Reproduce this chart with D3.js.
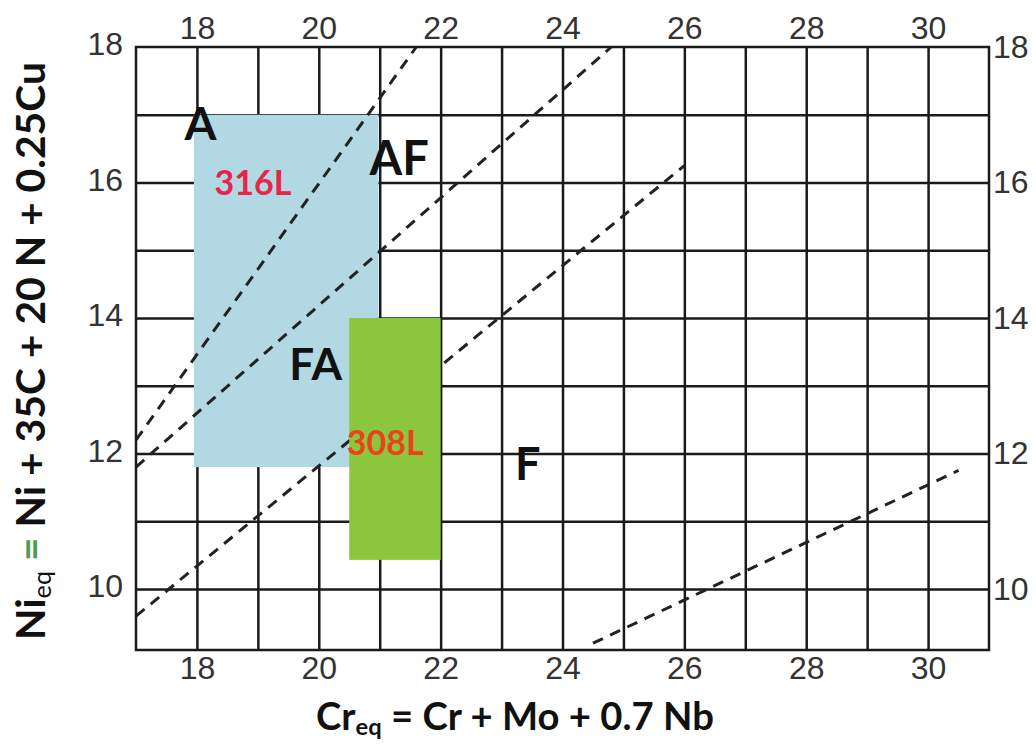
<!DOCTYPE html>
<html>
<head>
<meta charset="utf-8">
<script src="https://cdn.jsdelivr.net/npm/d3@7"></script>
<style>
  html, body { margin: 0; padding: 0; background: #fff; }
  svg { display: block; }
</style>
</head>
<body>
<svg id="chart" width="1036" height="747"></svg>
<script>
// Constitution diagram for stainless weld metals (Cr / Ni equivalents)

// axis extents and labelled ticks
const crDomain = [17, 31];
const niDomain = [9.1, 18];
const crTickLabels = [18, 20, 22, 24, 26, 28, 30];
const niTickLabels = [10, 12, 14, 16, 18];

// phase boundaries, each given by two [Cr_eq, Ni_eq] end points
const boundaryAtoAF  = [[17, 12.2], [21.6, 18]];
const boundaryAFtoFA = [[17, 11.8], [24.8, 18]];
const boundaryFAtoF  = [[17, 9.6],  [26, 16.25]];
const boundaryFtoFM  = [[24.5, 9.2], [30.5, 11.75]];

// alloy composition windows: [Cr min, Cr max, Ni min, Ni max]
const alloy316L = [17.95, 20.98, 11.8, 17];
const alloy308L = [20.5, 22, 10.43, 14];

// solidification-mode regions, anchored in Cr_eq / Ni_eq units
const phaseNames = ["A", "AF", "FA", "F"];
const phaseCr    = [18.06, 21.32, 19.95, 23.43];
const phaseNi    = [16.63, 16.11, 13.09, 11.61];

// alloy names, anchored the same way
const alloyNames = ["316L", "308L"];
const alloyCr    = [18.92, 21.09];
const alloyNi    = [15.82, 11.98];

const svg = d3.select("#chart");

const x = d3.scaleLinear().domain(crDomain).range([136, 989]);
const y = d3.scaleLinear().domain(niDomain).range([650, 47]);

const plotLeft = x(crDomain[0]), plotRight = x(crDomain[1]);
const plotTop = y(niDomain[1]), plotBottom = y(niDomain[0]);

const ink = "#1a1a1a";
const tickFont = "'Liberation Sans', Arial, sans-serif";
const labelFont = "Lato, 'Open Sans', sans-serif";

// ---- grid (one line per unit) ----
const gridCr = x.ticks(crDomain[1] - crDomain[0]).filter(v => v > crDomain[0] && v < crDomain[1]);
const gridNi = d3.range(Math.ceil(niDomain[0]), niDomain[1]);

svg.append("g")
  .attr("transform", `translate(0,${plotBottom})`)
  .call(d3.axisBottom(x).tickValues(gridCr).tickSize(-(plotBottom - plotTop)).tickFormat(""))
  .call(g => g.select(".domain").remove())
  .selectAll("line").attr("stroke", ink).attr("stroke-width", 2.5);

svg.append("g")
  .attr("transform", `translate(${plotLeft},0)`)
  .call(d3.axisLeft(y).tickValues(gridNi).tickSize(-(plotRight - plotLeft)).tickFormat(""))
  .call(g => g.select(".domain").remove())
  .selectAll("line").attr("stroke", ink).attr("stroke-width", 2.5);

// ---- 316L window (below the boundaries) ----
function windowRect(sel, w, fill) {
  sel.append("rect")
    .attr("x", x(w[0]))
    .attr("y", y(w[3]))
    .attr("width", x(w[1]) - x(w[0]))
    .attr("height", y(w[2]) - y(w[3]))
    .attr("fill", fill);
}
windowRect(svg, alloy316L, "#b2d8e3");

// ---- phase boundaries ----
const line = d3.line().x(d => x(d[0])).y(d => y(d[1]));
svg.append("g")
  .selectAll("path")
  .data([boundaryAtoAF, boundaryAFtoFA, boundaryFAtoF, boundaryFtoFM])
  .join("path")
  .attr("d", line)
  .attr("fill", "none")
  .attr("stroke", "#222")
  .attr("stroke-width", 3)
  .attr("stroke-dasharray", "11 8");

// ---- 308L window (drawn over the boundaries) ----
windowRect(svg, alloy308L, "#8cc63f");

// ---- frame ----
svg.append("rect")
  .attr("x", plotLeft).attr("y", plotTop)
  .attr("width", plotRight - plotLeft).attr("height", plotBottom - plotTop)
  .attr("fill", "none").attr("stroke", ink).attr("stroke-width", 2.5);

// ---- tick labels on all four sides ----
function styleTicks(g) {
  g.select(".domain").remove();
  g.selectAll("line").remove();
  g.selectAll("text")
    .attr("font-family", tickFont)
    .attr("font-size", 32)
    .attr("fill", "#333");
}

svg.append("g")
  .attr("transform", `translate(0,${plotBottom})`)
  .call(d3.axisBottom(x).tickValues(crTickLabels).tickSize(0).tickPadding(6))
  .call(styleTicks);

svg.append("g")
  .attr("transform", `translate(0,${plotTop})`)
  .call(d3.axisTop(x).tickValues(crTickLabels).tickSize(0).tickPadding(8))
  .call(styleTicks);

svg.append("g")
  .attr("transform", `translate(${plotLeft},0)`)
  .call(d3.axisLeft(y).tickValues(niTickLabels).tickSize(0).tickPadding(13))
  .call(styleTicks)
  .selectAll("text").attr("dy", "0.24em");

svg.append("g")
  .attr("transform", `translate(${plotRight},0)`)
  .call(d3.axisRight(y).tickValues(niTickLabels).tickSize(0).tickPadding(4))
  .call(styleTicks);

// ---- region and alloy names ----
const phaseSizes = [46, 47, 44, 45];
svg.append("g")
  .selectAll("text")
  .data(phaseNames)
  .join("text")
  .attr("x", (d, i) => x(phaseCr[i]))
  .attr("y", (d, i) => y(phaseNi[i]))
  .attr("text-anchor", "middle")
  .attr("font-family", labelFont)
  .attr("font-weight", 700)
  .attr("font-size", (d, i) => phaseSizes[i])
  .attr("fill", "#111")
  .text(d => d);

const alloyColors = ["#e5264b", "#ea421c"];
svg.append("g")
  .selectAll("text")
  .data(alloyNames)
  .join("text")
  .attr("x", (d, i) => x(alloyCr[i]))
  .attr("y", (d, i) => y(alloyNi[i]))
  .attr("text-anchor", "middle")
  .attr("font-family", labelFont)
  .attr("font-weight", 700)
  .attr("font-size", 34)
  .attr("fill", (d, i) => alloyColors[i])
  .text(d => d);

// ---- axis titles with subscripted "eq" ----
function title(parts, transform, span, subWeight) {
  const t = svg.append("text")
    .attr("transform", transform)
    .attr("text-anchor", "middle")
    .attr("font-family", labelFont)
    .attr("font-weight", 700)
    .attr("font-size", 36)
    .attr("fill", "#111")
    .style("white-space", "pre");
  parts.forEach(p => {
    const s = t.append("tspan").text(p.t);
    if (p.sub) s.attr("font-size", "0.62em").attr("dy", "0.22em").attr("font-weight", subWeight);
    if (p.after) s.attr("dy", "-0.136em");
    if (p.fill) s.attr("fill", p.fill);
  });
  // size the title so it covers the requested span
  const len = t.node().getComputedTextLength();
  t.attr("font-size", 36 * span / len);
  return t;
}

title([
  { t: "Cr" }, { t: "eq", sub: true },
  { t: " = Cr + Mo + 0.7 Nb", after: true }
], "translate(515,730)", 398, 700);

title([
  { t: "Ni" }, { t: "eq", sub: true },
  { t: " ", after: true }, { t: "=", fill: "#4f9a52" },
  { t: " Ni + 35C + 20 N + 0.25Cu" }
], "translate(45,351) rotate(-90)", 578, 400);
</script>
</body>
</html>
